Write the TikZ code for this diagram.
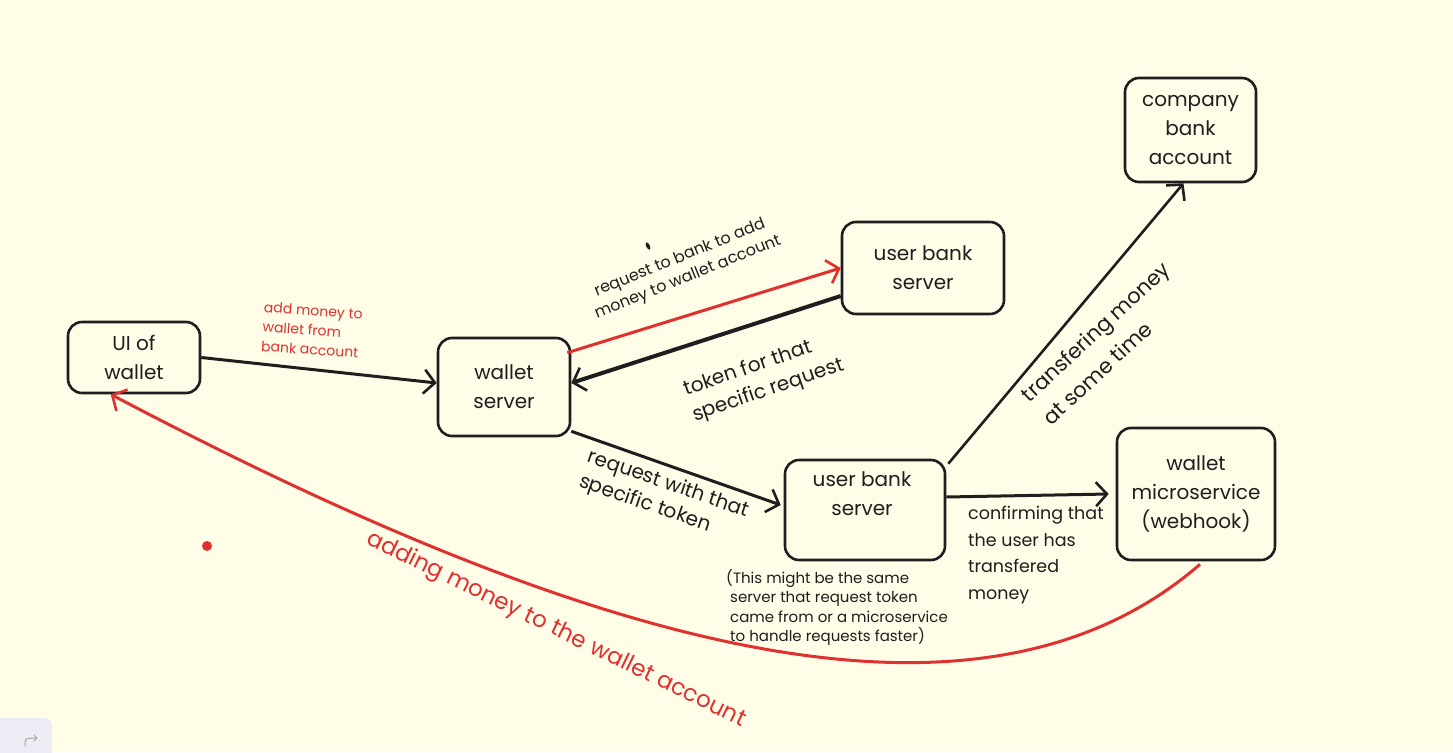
\documentclass[tikz,border=0pt]{standalone}
\usepackage{fontspec}
\setmainfont{Poppins}
\usetikzlibrary{arrows.meta}
\definecolor{bg}{HTML}{FFFDE8}
\definecolor{ink}{HTML}{1E1E1E}
\definecolor{redink}{HTML}{E03131}
\definecolor{lav}{HTML}{ECECF4}
\begin{document}
\begin{tikzpicture}[x=1pt,y=-1pt,
  box/.style={draw=ink, line width=2.6pt, rounded corners=14pt, inner sep=0pt, align=center, text=ink, font=\fontsize{20}{29}\selectfont},
  boxtext/.style={inner sep=0pt, align=center, text=ink, font=\fontsize{20}{29}\selectfont},
  tip/.style={-{Straight Barb[length=11pt,width=24pt,line width=2.6pt]}},
  conn/.style={draw=ink, line width=3pt, tip},
  rconn/.style={draw=redink, line width=3pt, tip},
  lbl/.style={inner sep=0pt, text=ink},
  rlbl/.style={inner sep=0pt, text=redink}]
\useasboundingbox (0,0) rectangle (1453,752);
\fill[bg] (0,0) rectangle (1453,752);

% nodes
\node[box, minimum width=132pt, minimum height=71pt] (ui) at (134,357.5) {UI of\\wallet};
\node[box, minimum width=132pt, minimum height=98pt] (ws) at (504,387) {wallet\\server};
\node[box, minimum width=162pt, minimum height=92pt] (ubs1) at (923,268) {user bank\\server};
\node[box, minimum width=131pt, minimum height=104pt] (cba) at (1190.5,130) {company\\bank\\account};
\node[box, minimum width=160pt, minimum height=100pt] (ubs2) at (865,510) {};
\node[boxtext] (ubs2t) at (862,494) {user bank\\server};
\node[box, minimum width=158pt, minimum height=132pt] (ms) at (1196,494) {wallet\\microservice\\(webhook)};

% connectors
\draw[conn] (ui.east) -- ([yshift=4pt]ws.west);
\draw[rconn] ([xshift=-4pt,yshift=-16pt]ws.north east) -- (ubs1.west);
\draw[conn, line width=4pt] ([yshift=-28pt]ubs1.west) -- ([yshift=4pt]ws.east);
\draw[conn] ([yshift=6pt]ws.south east) -- ([xshift=-3pt,yshift=5pt]ubs2.west);
\draw[conn, line width=2.6pt] ([xshift=2pt,yshift=-5pt]ubs2.north east) -- ([xshift=-7pt]cba.south);
\draw[conn] ([yshift=13pt]ubs2.east) -- ([xshift=-7pt]ms.west);
\draw[rconn] ([xshift=4pt,yshift=-3pt]ms.south) .. controls (980,755) and (600,652) .. ([xshift=44pt]ui.south west);

% labels
\node[rlbl, rotate=-4, align=left, font=\fontsize{14}{19.5}\selectfont] (l1) at (312,330) {add money to\\wallet from\\bank account};
\node[lbl, rotate=22, align=center, font=\fontsize{16}{21}\selectfont] (l2) at (684,268) {request to bank to add\\money to wallet account};
\node[lbl, rotate=19, align=left, font=\fontsize{20}{27}\selectfont] (l3) at (764,378) {token for that\\specific request};
\node[lbl, rotate=-19, align=left, font=\fontsize{20}{26}\selectfont] (l4) at (664,497) {request with that\\specific token};
\node[lbl, anchor=north west, align=left, font=\fontsize{15}{19.5}\selectfont] (l5) at (726,569) {(This might be the same\\\ server that request token\\\ came from or a microservice\\\ to handle requests faster)};
\node[lbl, anchor=north west, align=left, font=\fontsize{17.5}{26.5}\selectfont] (l6) at (968,506) {confirming that\\the user has\\transfered\\money};
\node[lbl, rotate=43, align=left, font=\fontsize{21}{32}\selectfont] (l7) at (1106,343) {transfering money\\at some time};
\node[rlbl, rotate=-26, font=\fontsize{23}{28}\selectfont] (l8) at (556,630) {adding money to the wallet account};

% marks
\fill[ink, rotate around={25:(648,246)}] (648,246) ellipse (1.8 and 4);
\fill[redink] (207,546) circle (5);

% corner widget
\fill[lav, rounded corners=8pt] (-10,718) rectangle (52,765);
\draw[gray!70, line width=1pt, line cap=round, line join=round] (25,746) .. controls (25,739) .. (30,738) -- (37,738) (34,735) -- (37,738) -- (34,741);
\end{tikzpicture}
\end{document}
